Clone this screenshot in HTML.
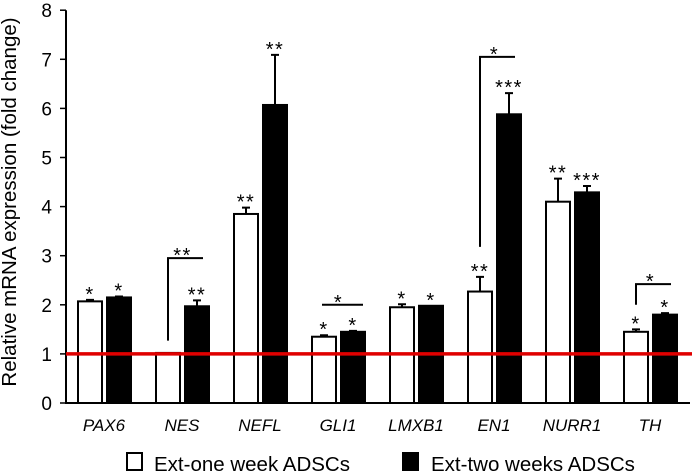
<!DOCTYPE html>
<html><head><meta charset="utf-8"><style>
body{margin:0;background:#fff;}
svg{display:block;font-family:"Liberation Sans",Arial,sans-serif;}
</style></head><body>
<svg id="chart" width="692" height="473"></svg>
<script>
const categories=["PAX6","NES","NEFL","GLI1","LMXB1","EN1","NURR1","TH"];
const oneWeek=[2.07,1.02,3.85,1.35,1.95,2.27,4.10,1.45];
const oneWeekErr=[0.03,0,0.13,0.03,0.06,0.30,0.47,0.05];
const twoWeeks=[2.15,1.97,6.07,1.45,1.98,5.88,4.29,1.80];
const twoWeeksErr=[0.02,0.12,1.02,0.02,0,0.43,0.13,0.03];
const oneSig=["*","","**","*","*","**","**","*"];
const twoSig=["*","**","**","*","*","***","***","*"];
const yTicks=[0,1,2,3,4,5,6,7,8];
const brackets=[{i:1,lo:1.27,hi:2.95,label:"**",type:"left"},{i:3,lo:2.0,hi:2.0,label:"*",type:"flat"},{i:5,lo:3.18,hi:7.05,label:"*",type:"left"},{i:7,lo:2.0,hi:2.42,label:"*",type:"left"}];
const NS="http://www.w3.org/2000/svg";
const svg=document.getElementById("chart");
const y=v=>403-49.1*v;
const xw=i=>78+i*78, bw=24, xb=i=>xw(i)+29;
function el(t,a,txt){const e=document.createElementNS(NS,t);for(const k in a)e.setAttribute(k,a[k]);if(txt!==undefined)e.textContent=txt;svg.appendChild(e);return e;}
let ax=el("line",{x1:66,y1:y(8),x2:66,y2:404,stroke:"#000","stroke-width":2});


let bx=el("line",{x1:65,y1:403,x2:690,y2:403,stroke:"#000","stroke-width":2});


yTicks.forEach(t=>{
 let l=el("line",{x1:60,y1:y(t),x2:66,y2:y(t),stroke:"#000","stroke-width":1.5});
 
 
 let tx=el("text",{x:52,y:y(t)+7,"text-anchor":"end","font-size":19},t);
 
 
});
let yt=el("text",{transform:"translate(16,202) rotate(-90)","text-anchor":"middle","font-size":20.5},"Relative mRNA expression (fold change)");


function star(x,yy,s){let t=el("text",{x:x,y:yy,"text-anchor":"middle","font-size":20,"letter-spacing":"1.5"},s);}
categories.forEach((c,i)=>{
 let w=el("rect",{x:xw(i),y:y(oneWeek[i]),width:bw,height:403-y(oneWeek[i]),fill:"#fff",stroke:"#000","stroke-width":2});
 
 
 let b=el("rect",{x:xb(i),y:y(twoWeeks[i]),width:bw,height:403-y(twoWeeks[i]),fill:"#000",stroke:"#000","stroke-width":2});
 
 
 [[xw(i),oneWeek[i],oneWeekErr[i],oneSig[i]],[xb(i),twoWeeks[i],twoWeeksErr[i],twoSig[i]]].forEach(([x,v,e,s])=>{
  const cx=x+bw/2;
  if(e>0){
   let g=el("path",{d:`M${cx},${y(v)} V${y(v+e)} M${cx-4},${y(v+e)} H${cx+4}`,stroke:"#000","stroke-width":2,fill:"none"});
   
   
  }
  if(s)star(cx,y(v+e)+1,s);
 });
 let l=el("text",{x:xw(i)+26,y:431,"text-anchor":"middle","font-size":17,"font-style":"italic"},c);
 
 
});
brackets.forEach(br=>{
 const x1=xw(br.i)+bw/2,x2=xb(br.i)+bw/2;
 let d=br.type=="flat"?`M${xw(br.i)+10},${y(br.hi)} H${xb(br.i)+bw-2}`:`M${x1},${y(br.hi)+0} M${x1},${y(br.lo)} V${y(br.hi)} H${x2+6}`;
 let p=el("path",{d:d,stroke:"#000","stroke-width":2,fill:"none"});
 
 
 star((x1+x2)/2,y(br.hi)+4,br.label);
});
let rl=el("line",{x1:66,y1:y(1),x2:692,y2:y(1),stroke:"#e00000","stroke-width":3.5});


let lw=el("rect",{x:127,y:453,width:15,height:17,fill:"#fff",stroke:"#000","stroke-width":2});


let lt=el("text",{x:154,y:471,"font-size":20.5},"Ext-one week ADSCs");


let lb=el("rect",{x:402,y:452,width:17,height:19,fill:"#000"});


let lt2=el("text",{x:431,y:471,"font-size":20.5},"Ext-two weeks ADSCs");


</script>
</body></html>
